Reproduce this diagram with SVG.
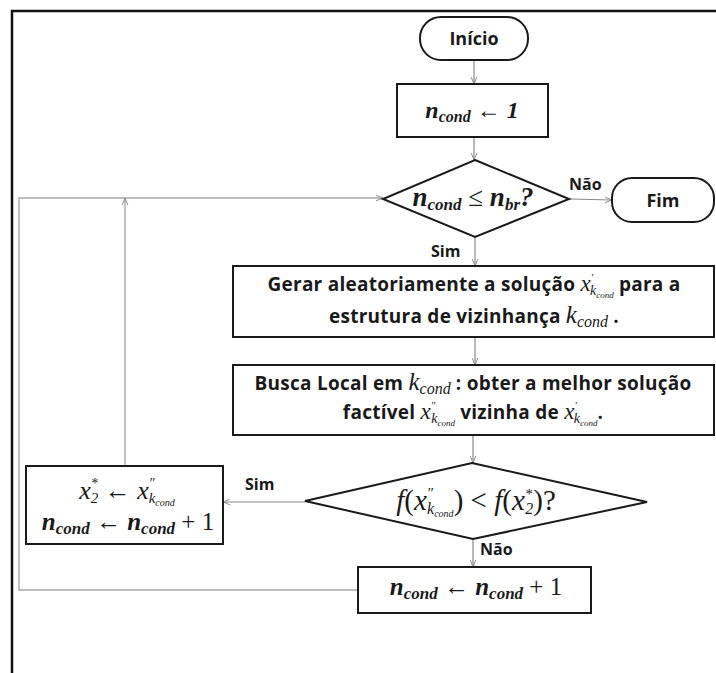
<svg xmlns="http://www.w3.org/2000/svg" width="716" height="673" viewBox="0 0 716 673">
  <style>
    .box { fill: #fff; stroke: #1a1a1a; stroke-width: 2; }
    .t { font-family: "Open Sans", "Liberation Sans", Arial, sans-serif; font-weight: bold; fill: #1a1a1a; }
    .sp { letter-spacing: 0.25px; }
    .m { font-family: "Liberation Serif", "Times New Roman", serif; font-style: italic; font-weight: normal; letter-spacing: 0; fill: #1a1a1a; }
    .mb { font-family: "Liberation Serif", "Times New Roman", serif; font-style: italic; font-weight: bold; letter-spacing: 0; fill: #1a1a1a; }
    .s { font-family: "Liberation Serif", "Times New Roman", serif; font-style: normal; font-weight: normal; }
    .c { fill: none; stroke: #8a8a8a; stroke-width: 1.2; }
    .loop { fill: none; stroke: #a8a8a8; stroke-width: 1.4; }
  </style>
  <defs>
    <marker id="arr" viewBox="0 0 10 10" refX="10" refY="5" markerWidth="7" markerHeight="7" orient="auto" markerUnits="userSpaceOnUse">
      <path d="M0,1 L10,5 L0,9" fill="none" stroke="#8a8a8a" stroke-width="1.4"/>
    </marker>
  </defs>

  <rect width="716" height="673" fill="#fff"/>
  <!-- page frame -->
  <path d="M716,11 H12 V673" fill="none" stroke="#111" stroke-width="2.5"/>

  <!-- connectors -->
  <g id="connectors">
    <line class="c" x1="474" y1="60" x2="474" y2="84" marker-end="url(#arr)"/>
    <line class="c" x1="474" y1="137" x2="474" y2="160" marker-end="url(#arr)"/>
    <line class="c" x1="569" y1="199" x2="612" y2="200" marker-end="url(#arr)"/>
    <line class="c" x1="475" y1="237" x2="475" y2="266" marker-end="url(#arr)"/>
    <line class="c" x1="475" y1="337" x2="475" y2="365" marker-end="url(#arr)"/>
    <line class="c" x1="473" y1="435" x2="473" y2="463" marker-end="url(#arr)"/>
    <line class="c" x1="473" y1="539" x2="473" y2="567" marker-end="url(#arr)"/>
    <line class="c" x1="305" y1="502" x2="223" y2="502" marker-end="url(#arr)"/>
    <path class="loop" d="M358,590 H19 V198 H383" marker-end="url(#arr)"/>
    <line class="loop" x1="125" y1="466" x2="125" y2="198" marker-end="url(#arr)"/>
  </g>

  <!-- start -->
  <g id="inicio">
    <rect class="box" x="420" y="17" width="108" height="43" rx="21"/>
    <text class="t" x="474" y="45" font-size="18" text-anchor="middle">Início</text>
  </g>

  <!-- counter init -->
  <g id="init">
    <rect class="box" x="397" y="84" width="151" height="53"/>
    <text class="mb" x="472" y="118" font-size="24" text-anchor="middle">n<tspan font-size="16" dy="4">cond</tspan><tspan class="s" dy="-4"> ← </tspan>1</text>
  </g>

  <!-- loop condition -->
  <g id="cond1">
    <polygon class="box" points="475,160 569,199 475,237 383,199"/>
    <text class="mb" x="473" y="206" font-size="27" text-anchor="middle">n<tspan font-size="17" dy="4">cond</tspan><tspan class="s" dy="-4"> ≤ </tspan>n<tspan font-size="17" dy="4">br</tspan><tspan dy="-4">?</tspan></text>
  </g>

  <!-- end -->
  <g id="fim">
    <rect class="box" x="612" y="178" width="102" height="44" rx="20"/>
    <text class="t" x="663" y="207" font-size="18" text-anchor="middle">Fim</text>
  </g>

  <!-- random solution -->
  <g id="gerar">
    <rect class="box" x="233" y="266" width="481" height="71"/>
    <text class="t sp" x="474" y="291" font-size="19" text-anchor="middle">Gerar aleatoriamente a solução <tspan class="m" font-size="23">x</tspan><tspan class="m" font-size="11" dy="-10">′</tspan><tspan class="m" font-size="14" dx="-3" dy="14">k</tspan><tspan class="m" font-size="9" dy="3">cond</tspan><tspan dy="-7"> para a</tspan></text>
    <text class="t sp" x="474" y="323" font-size="19" text-anchor="middle">estrutura de vizinhança <tspan class="m" font-size="25">k</tspan><tspan class="m" font-size="16" dy="4">cond</tspan><tspan dy="-4"> .</tspan></text>
  </g>

  <!-- local search -->
  <g id="busca">
    <rect class="box" x="233" y="365" width="481" height="70"/>
    <text class="t sp" x="473" y="390" font-size="19" text-anchor="middle">Busca Local em <tspan class="m" font-size="25">k</tspan><tspan class="m" font-size="16" dy="4">cond</tspan><tspan dy="-4"> : obter a melhor solução</tspan></text>
    <text class="t sp" x="473" y="419" font-size="19" text-anchor="middle">factível <tspan class="m" font-size="23">x</tspan><tspan class="m" font-size="11" dy="-10">″</tspan><tspan class="m" font-size="14" dx="-4" dy="14">k</tspan><tspan class="m" font-size="9" dy="3">cond</tspan><tspan dy="-7"> vizinha de </tspan><tspan class="m" font-size="23">x</tspan><tspan class="m" font-size="11" dy="-10">′</tspan><tspan class="m" font-size="14" dx="-3" dy="14">k</tspan><tspan class="m" font-size="9" dy="3">cond</tspan><tspan dy="-7">.</tspan></text>
  </g>

  <!-- improvement test -->
  <g id="cond2">
    <polygon class="box" points="472,463 647,502 473,539 305,501"/>
    <text class="m" x="476" y="510" font-size="29" text-anchor="middle">f<tspan class="s">(</tspan>x<tspan font-size="15" dy="-12">″</tspan><tspan font-size="16" dx="-6" dy="16">k</tspan><tspan font-size="10" dy="3">cond</tspan><tspan class="s" dy="-7">) &lt; </tspan>f<tspan class="s">(</tspan>x<tspan font-size="15" dy="-11">*</tspan><tspan font-size="16" dx="-7" dy="15">2</tspan><tspan class="s" dy="-4">)?</tspan></text>
  </g>

  <!-- update best -->
  <g id="atualiza">
    <rect class="box" x="26" y="466" width="197" height="78"/>
    <text class="m" x="127" y="499" font-size="26" text-anchor="middle">x<tspan font-size="14" dy="-11">*</tspan><tspan font-size="15" dx="-7" dy="15">2</tspan><tspan class="s" dy="-4"> ← </tspan>x<tspan font-size="14" dy="-11">″</tspan><tspan font-size="15" dx="-6" dy="15">k</tspan><tspan font-size="10" dy="3">cond</tspan></text>
    <text class="mb" x="128" y="530" font-size="25" text-anchor="middle">n<tspan font-size="17" dy="4">cond</tspan><tspan class="s" dy="-4"> ← </tspan>n<tspan font-size="17" dy="4">cond</tspan><tspan class="s" dy="-4"> + 1</tspan></text>
  </g>

  <!-- next neighbourhood -->
  <g id="incrementa">
    <rect class="box" x="358" y="567" width="233" height="46"/>
    <text class="mb" x="476" y="595" font-size="25" text-anchor="middle">n<tspan font-size="17" dy="4">cond</tspan><tspan class="s" dy="-4"> ← </tspan>n<tspan font-size="17" dy="4">cond</tspan><tspan class="s" dy="-4"> + 1</tspan></text>
  </g>

  <!-- branch labels -->
  <g id="rotulos">
    <text class="t" x="569" y="190" font-size="16">Não</text>
    <text class="t" x="431" y="257" font-size="16">Sim</text>
    <text class="t" x="245" y="490" font-size="16">Sim</text>
    <text class="t" x="480" y="555" font-size="16">Não</text>
  </g>
</svg>
